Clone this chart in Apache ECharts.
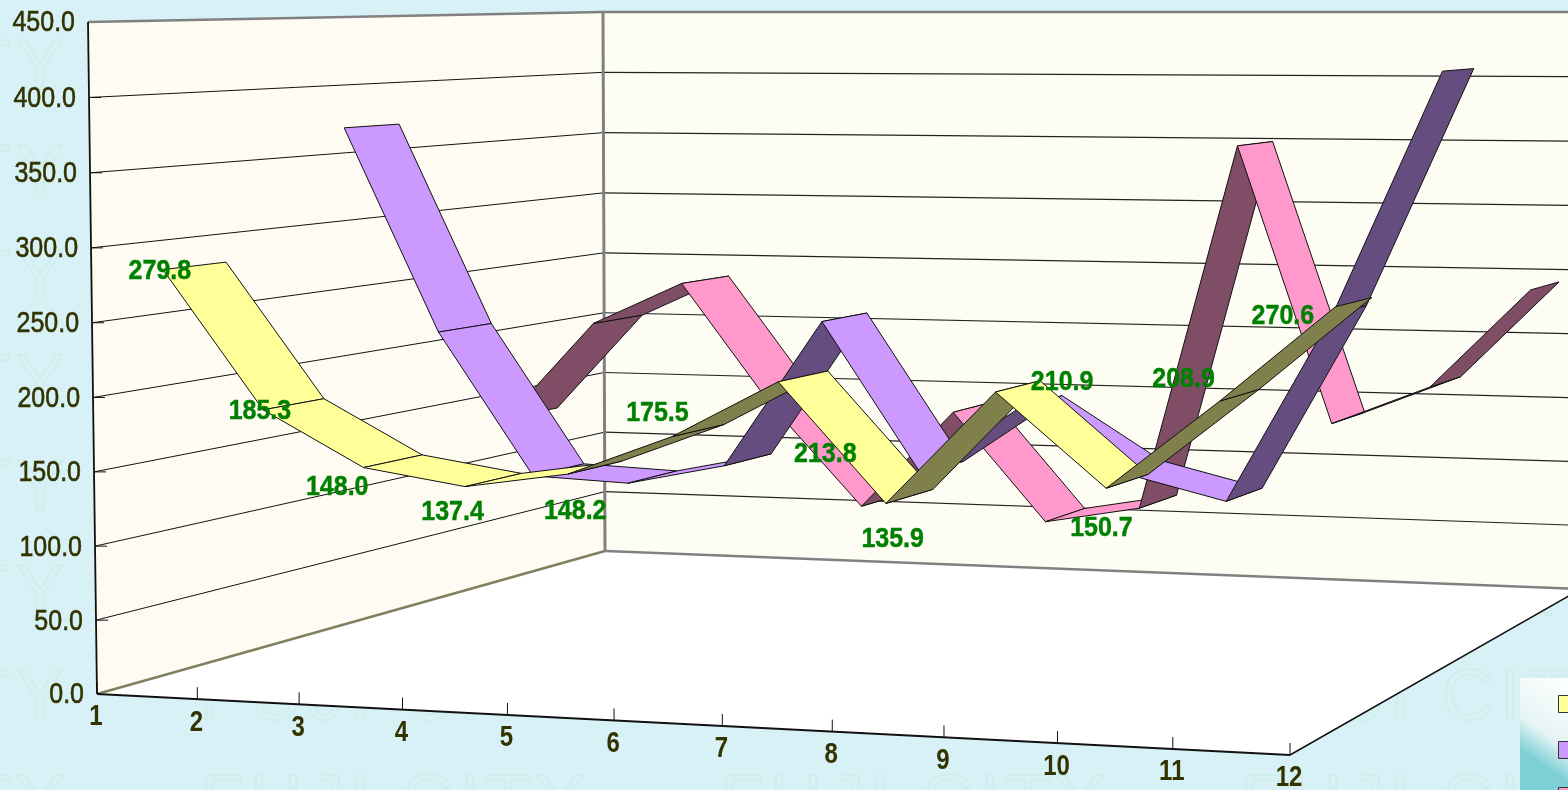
<!DOCTYPE html>
<html><head><meta charset="utf-8">
<style>html,body{margin:0;padding:0;width:1568px;height:790px;overflow:hidden;background-color:#d7f1f7;
background-image:url("data:image/svg+xml,%3Csvg xmlns='http://www.w3.org/2000/svg' width='520' height='105'%3E%3Ctext x='5' y='55' font-family='Liberation Sans' font-size='72' fill='none' stroke='%23cfeeec' stroke-width='2' letter-spacing='6'%3EFUJI CITY%3C/text%3E%3C/svg%3E");background-position:195px 35px}
#c{width:1568px;height:790px}</style>
<script src="https://cdn.jsdelivr.net/npm/echarts@6/dist/echarts.min.js"></script></head><body><div id="c"></div>
<script>
const months=['1','2','3','4','5','6','7','8','9','10','11','12'];
const yellowValues=[279.8,185.3,148.0,137.4,148.2,175.5,213.8,135.9,210.9,150.7,208.9,270.6];
const purpleValues=[368.5,219,115,112,127,233,126,176,131,113.5,246,413.5];
const pinkValues=[128.5,206,239,145,68,143.5,61,74,351,143,172.5,246.5];
const H=(function(){const p=[[97,694],[1290,755],[1581,589],[605,551]];
 const dx1=p[1][0]-p[2][0],dx2=p[3][0]-p[2][0],sx=p[0][0]-p[1][0]+p[2][0]-p[3][0];
 const dy1=p[1][1]-p[2][1],dy2=p[3][1]-p[2][1],sy=p[0][1]-p[1][1]+p[2][1]-p[3][1];
 const det=dx1*dy2-dx2*dy1,g=(sx*dy2-dx2*sy)/det,h=(dx1*sy-sx*dy1)/det;
 return {a:p[1][0]-p[0][0]+g*p[1][0],b:p[3][0]-p[0][0]+h*p[3][0],c:p[0][0],d:p[1][1]-p[0][1]+g*p[1][1],e:p[3][1]-p[0][1]+h*p[3][1],f:p[0][1],g,h,
 vx:-10.1,vy:-672.3,vw:-0.0126};})();
function P(u,v,w){const W=H.g*u+H.h*w+1+H.vw*v;return [(H.a*u+H.b*w+H.c+H.vx*v)/W,(H.d*u+H.e*w+H.f+H.vy*v)/W];}
const bands={yellow:[.115,.222],purple:[.44,.548],pink:[.772,.887]};
const chart=echarts.init(document.getElementById('c'),null,{renderer:'canvas'});
function project(params,api,i,val,w){const cs=params.coordSys,c=api.coord([i,val]);return P((c[0]-cs.x)/cs.width,(cs.y+cs.height-c[1])/cs.height,w);}
function ribbon(color,dark,band){return function(params,api){const i=api.value(0),a=api.value(1),b=api.value(2);
 const q=[project(params,api,i,a,band[0]),project(params,api,i,a,band[1]),project(params,api,i+1,b,band[1]),project(params,api,i+1,b,band[0])];
 const ax=q[3][0]-q[0][0],ay=q[3][1]-q[0][1],bx=q[1][0]-q[0][0],by=q[1][1]-q[0][1];
 return {type:'polygon',shape:{points:q},style:{fill:(ax*by-ay*bx)>0?dark:color,stroke:'#111',lineWidth:1}};};}
function segs(vals){return vals.slice(0,-1).map((v,i)=>[i,v,vals[i+1]]);}
const axisInk='#333300';
function frame(params,api){const kids=[];
 const poly=(pts,fill)=>kids.push({type:'polygon',shape:{points:pts},style:{fill,stroke:null}});
 const line=(a,b,col,lw)=>kids.push({type:'line',shape:{x1:a[0],y1:a[1],x2:b[0],y2:b[1]},style:{stroke:col,lineWidth:lw}});
 const pr=(i,val,w)=>project(params,api,i,val,w);
 poly([pr(0,0,0),pr(0,450,0),pr(0,450,1),pr(0,0,1)],'#fefcf2');
 poly([pr(0,0,1),pr(0,450,1),pr(11,450,1),pr(11,0,1)],'#fefdf4');
 poly([pr(0,0,0),pr(11,0,0),pr(11,0,1),pr(0,0,1)],'#ffffff');
 for(let t=50;t<450;t+=50){line(pr(0,t,0),pr(0,t,1),'#111',1);line(pr(0,t,1),pr(11,t,1),'#222',1.2);
  const p=pr(0,t,0);line(p,[p[0]+12,p[1]],'#111',1);}
 line(pr(0,450,0),pr(0,450,1),'#808080',2.5);line(pr(0,450,1),pr(11,450,1),'#808080',2.5);
 line(pr(0,0,1),pr(0,450,1),'#808080',3);line(pr(0,0,0),pr(0,0,1),'#808060',2.5);line(pr(0,0,1),pr(11,0,1),'#808080',2.5);
 line(pr(0,0,0),pr(0,450,0),'#111',1.8);line(pr(0,0,0),pr(11,0,0),'#111',1.8);line(pr(11,0,0),pr(11,0,1),'#111',1.5);
 months.forEach((m,i)=>{const p=pr(i,0,0);line(p,[p[0],p[1]-12],'#111',1);
  kids.push({type:'text',x:p[0]-1,y:p[1]+23.5,scaleY:1.2,style:{text:m,fontFamily:'Liberation Sans',fontWeight:'bold',fontSize:24,fill:axisInk,align:'center',verticalAlign:'middle'}});});
 for(let t=0;t<=450;t+=50){const p=pr(0,t,0);kids.push({type:'text',x:p[0]-13,y:p[1]+1.5,scaleY:1.15,style:{text:t.toFixed(1),fontFamily:'Liberation Sans',fontSize:25,fill:axisInk,stroke:axisInk,lineWidth:0.5,align:'right',verticalAlign:'middle'}});}
 return {type:'group',children:kids};}
const labelShift=[[-35,5],[-34,7],[-56,26],[-41,32],[-20,44],[-41,-17],[22,78],[-17,43],[44,-4],[-26,47],[-56,-16],[-71,14]];
const midYellow=(bands.yellow[0]+bands.yellow[1])/2;
chart.setOption({animation:false,
 grid:{left:100,right:100,top:50,bottom:100},
 xAxis:{type:'category',data:months,boundaryGap:false,show:false},
 yAxis:{type:'value',min:0,max:450,interval:50,show:false},
 legend:{orient:'vertical',left:1520,top:678,height:180,padding:[17,10,10,38],itemWidth:18,itemHeight:17,itemGap:28,icon:'rect',
  backgroundColor:new echarts.graphic.LinearGradient(0.45,0,0,0.52,[{offset:0,color:'#ffffff'},{offset:0.68,color:'#e6f4f4'},{offset:1,color:'#7ed0d6'}]),
  itemStyle:{borderColor:'#333',borderWidth:1},textStyle:{color:'#333300',fontSize:14},
  data:['系列1','系列2','系列3']},
 series:[
 {type:'custom',name:'frame',coordinateSystem:'cartesian2d',silent:true,clip:false,data:[[0,0]],renderItem:frame,encode:{x:0,y:1}},
 {type:'custom',name:'系列3',coordinateSystem:'cartesian2d',silent:true,itemStyle:{color:'#FF99CC'},data:segs(pinkValues),renderItem:ribbon('#FF99CC','#804D66',bands.pink),encode:{x:0,y:1}},
 {type:'custom',name:'系列2',coordinateSystem:'cartesian2d',silent:true,itemStyle:{color:'#CC99FF'},data:segs(purpleValues),renderItem:ribbon('#CC99FF','#664D80',bands.purple),encode:{x:0,y:1}},
 {type:'custom',name:'系列1',coordinateSystem:'cartesian2d',silent:true,itemStyle:{color:'#FFFF99'},data:segs(yellowValues),renderItem:ribbon('#FFFF99','#80804D',bands.yellow),encode:{x:0,y:1}},
 {type:'custom',name:'labels',coordinateSystem:'cartesian2d',silent:true,data:yellowValues.map((v,i)=>[i,v]),encode:{x:0,y:1},
  renderItem:function(params,api){const i=api.value(0),v=api.value(1),p=project(params,api,i,v,midYellow),s=labelShift[i];
   return {type:'text',x:p[0]+s[0],y:p[1]+s[1],scaleY:1.12,style:{text:v.toFixed(1),fontFamily:'Liberation Sans',fontWeight:'bold',fontSize:25,fill:'#008000',stroke:'#008000',lineWidth:0.4,align:'center',verticalAlign:'middle'}};}}
 ]});
</script></body></html>
